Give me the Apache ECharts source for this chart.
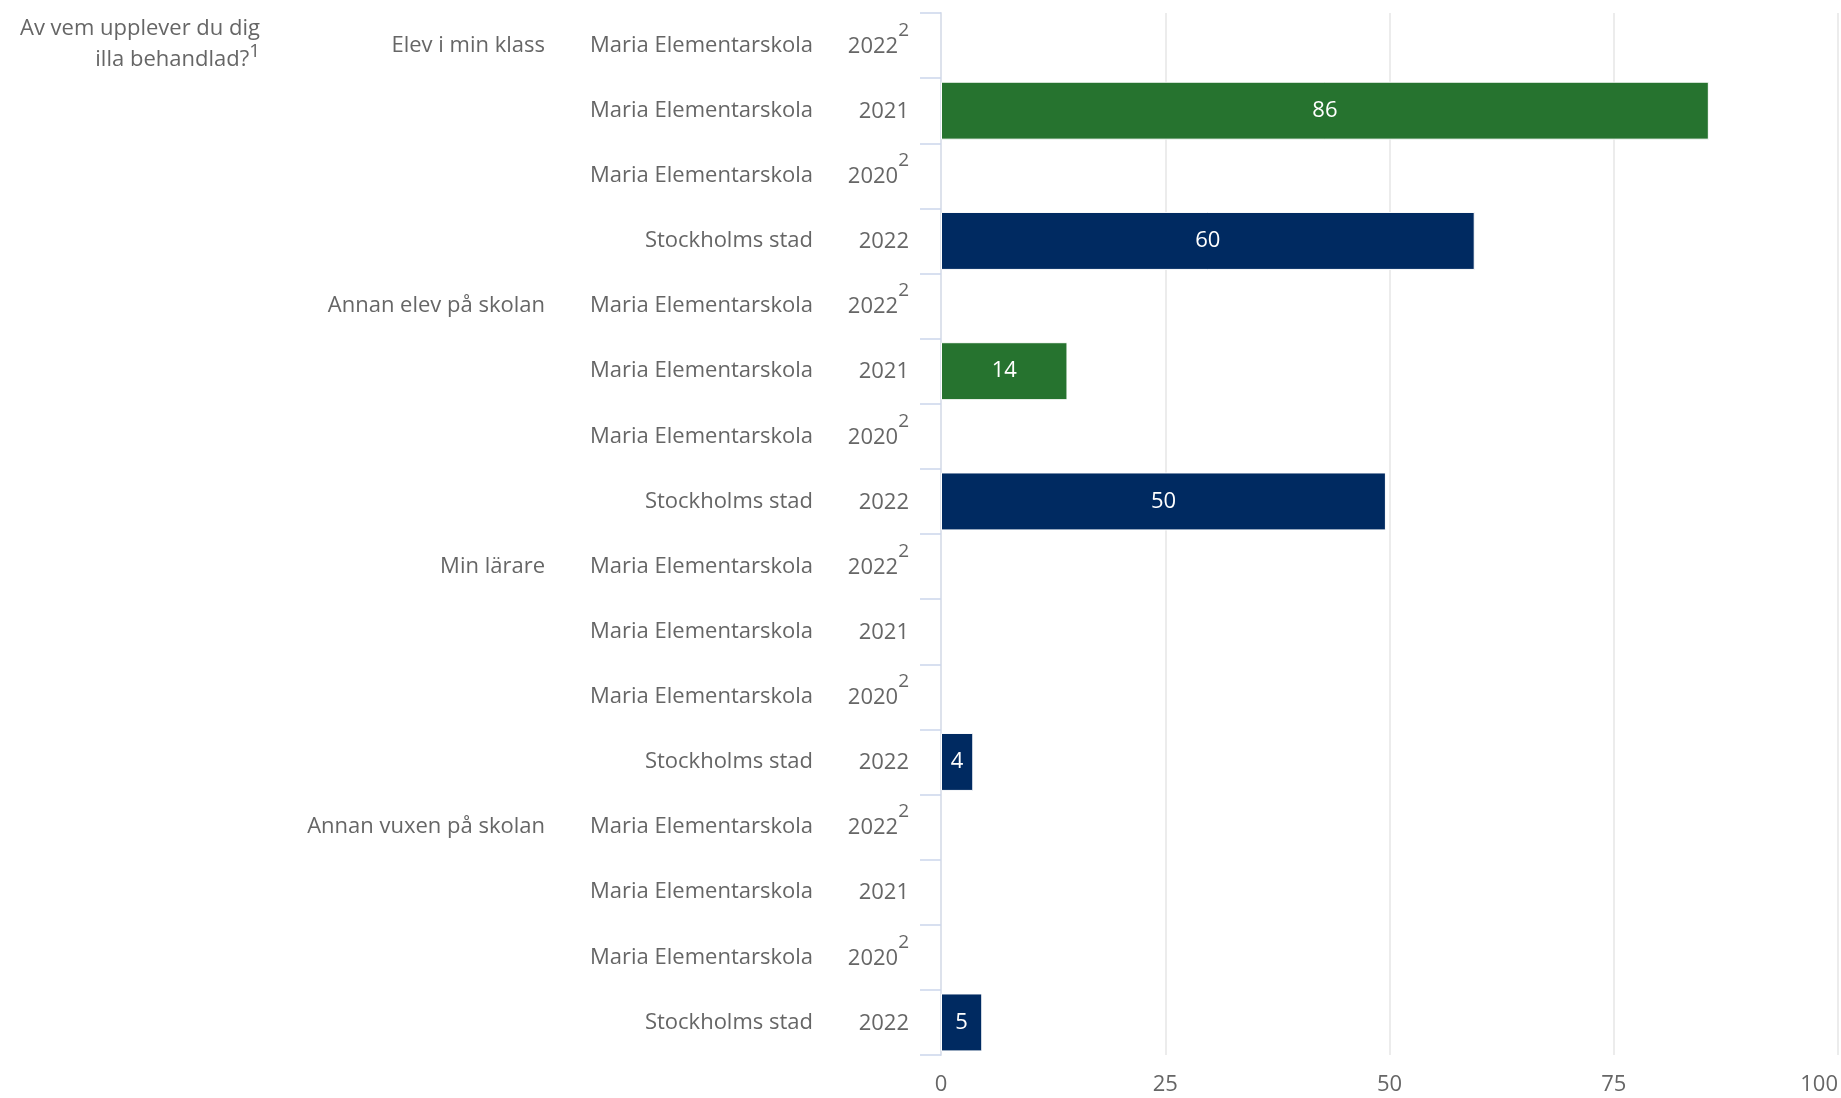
<!DOCTYPE html>
<html>
<head>
<meta charset="utf-8">
<script src="https://cdn.jsdelivr.net/npm/echarts@6/dist/echarts.min.js"></script>
<style>
html,body{margin:0;padding:0;background:#fff;}
#chart{width:1841px;height:1098px;}
</style>
</head>
<body>
<div id="chart"></div>
<script>
// ---- data ----
const questionTitleLines = ['Av vem upplever du dig', 'illa behandlad?'];
const questionTitleNote = '1';
const questions = ['Elev i min klass', 'Annan elev på skolan', 'Min lärare', 'Annan vuxen på skolan'];
const units = ['Maria Elementarskola', 'Maria Elementarskola', 'Maria Elementarskola', 'Stockholms stad'];
const years = ['2022', '2021', '2020', '2022'];
const yearNotes = ['2', '', '2', ''];
// values per question (percent)
const maria2021 = [85.6, 14.1, null, null];
const stockholm2022 = [59.5, 49.6, 3.6, 4.6];
const xTicks = [0, 25, 50, 75, 100];

// ---- build rows ----
const rowIds = [], rowQuestion = [], rowUnit = [], rowYear = [], rowNote = [];
const mariaSeries = [], stockholmSeries = [];
questions.forEach((q, qi) => {
  units.forEach((u, ui) => {
    rowIds.push('r' + qi + '_' + ui);
    rowQuestion.push(ui === 0 ? q : '');
    rowUnit.push(u);
    rowYear.push(years[ui]);
    rowNote.push(yearNotes[ui]);
    mariaSeries.push(ui === 1 ? maria2021[qi] : null);
    stockholmSeries.push(ui === 3 ? stockholm2022[qi] : null);
  });
});

const FONT = '"Open Sans"';
const TXT = '#666666';
const FS = 22;

const chart = echarts.init(document.getElementById('chart'), null, {renderer: 'canvas'});

const baseY = {
  type: 'category',
  data: rowIds,
  inverse: true,
  gridIndex: 0,
  position: 'left',
  axisLine: {show: false},
  axisTick: {show: false},
  splitLine: {show: false}
};

const labelStyle = {
  position: 'inside',
  color: '#ffffff',
  fontSize: FS,
  fontFamily: FONT,
  formatter: p => Math.round(p.value)
};

chart.setOption({
  animation: false,
  backgroundColor: '#ffffff',
  grid: {left: 941, right: 1, top: 13, bottom: 43, containLabel: false},
  graphic: [{
    type: 'text',
    x: 260,
    y: 13,
    style: {
      text: '{t|' + questionTitleLines[0] + '}\n{t|' + questionTitleLines[1] + '}{s|' + questionTitleNote + '}',
      align: 'right',
      verticalAlign: 'top',
      rich: {
        t: {fontSize: FS, fontFamily: FONT, fill: TXT, color: TXT, lineHeight: 31},
        s: {fontSize: 19, fontFamily: FONT, fill: TXT, color: TXT, lineHeight: 31, padding: [0, 0, 16, 0]}
      }
    }
  }],
  xAxis: {
    type: 'value',
    min: xTicks[0],
    max: xTicks[xTicks.length - 1],
    interval: xTicks[1] - xTicks[0],
    axisLine: {show: false},
    axisTick: {show: false},
    splitLine: {show: true, lineStyle: {color: '#e6e6e6', width: 1.5}},
    axisLabel: {
      fontSize: FS, fontFamily: FONT, color: TXT, margin: 19,
      alignMaxLabel: 'right'
    }
  },
  yAxis: [
    Object.assign({}, baseY, {
      axisLine: {show: true, lineStyle: {color: '#dde2ec', width: 2}},
      axisTick: {show: true, length: 21, lineStyle: {color: '#ccd6eb', width: 1.5}},
      axisLabel: {
        margin: 32,
        fontFamily: FONT,
        color: TXT,
        formatter: (v, i) => '{y|' + rowYear[i] + '}' + (rowNote[i] ? '{s|' + rowNote[i] + '}' : ''),
        rich: {
          y: {fontSize: FS, fontFamily: FONT, color: TXT, lineHeight: 30, padding: [2, 0, 0, 0]},
          s: {fontSize: 19, fontFamily: FONT, color: TXT, lineHeight: 30, padding: [0, 0, 30, 0]}
        }
      }
    }),
    Object.assign({}, baseY, {
      axisLabel: {
        margin: 128, fontSize: FS, fontFamily: FONT, color: TXT,
        padding: [3, 0, 0, 0],
        formatter: (v, i) => rowUnit[i]
      }
    }),
    Object.assign({}, baseY, {
      axisLabel: {
        margin: 396, fontSize: FS, fontFamily: FONT, color: TXT,
        padding: [3, 0, 0, 0],
        formatter: (v, i) => rowQuestion[i]
      }
    })
  ],
  series: [
    {
      name: 'Maria Elementarskola',
      type: 'bar',
      yAxisIndex: 0,
      data: mariaSeries,
      barCategoryGap: '11%',
      barGap: '-100%',
      itemStyle: {color: '#26732f', borderColor: '#ffffff', borderWidth: 1},
      label: Object.assign({show: true}, labelStyle)
    },
    {
      name: 'Stockholms stad',
      type: 'bar',
      yAxisIndex: 0,
      data: stockholmSeries,
      barCategoryGap: '11%',
      barGap: '-100%',
      itemStyle: {color: '#002a61', borderColor: '#ffffff', borderWidth: 1},
      label: Object.assign({show: true}, labelStyle)
    }
  ]
});
</script>
</body>
</html>
